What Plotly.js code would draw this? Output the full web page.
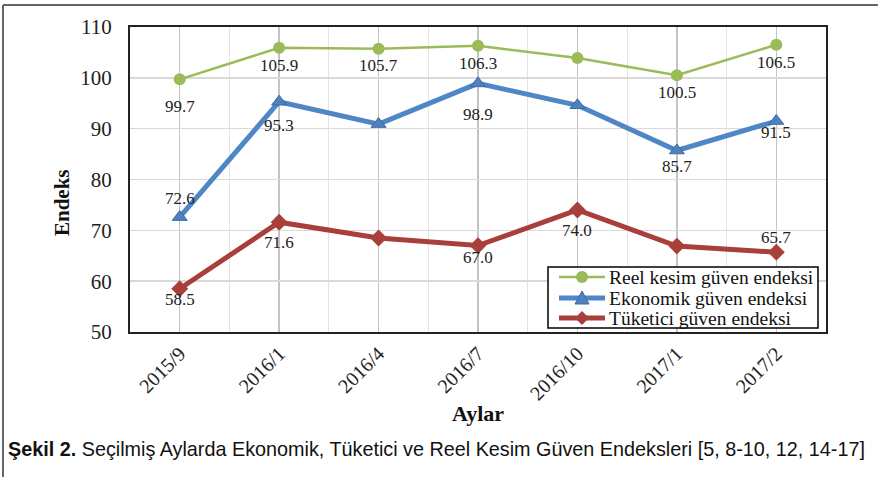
<!DOCTYPE html>
<html>
<head>
<meta charset="utf-8">
<script src="https://cdn.plot.ly/plotly-3.0.1.min.js"></script>
<style>html,body{margin:0;padding:0;background:#fff;}#chart{width:878px;height:477px;}</style>
</head>
<body>
<div id="chart"></div>
<script>
const categories = ["2015/9", "2016/1", "2016/4", "2016/7", "2016/10", "2017/1", "2017/2"];
const reelValues = [99.7, 105.9, 105.7, 106.3, 103.9, 100.5, 106.5];
const ekonomikValues = [72.6, 95.3, 90.9, 98.9, 94.6, 85.7, 91.5];
const tuketiciValues = [58.5, 71.6, 68.5, 67.0, 74.0, 66.9, 65.7];
const reelLabels = ["99.7", "105.9", "105.7", "106.3", "", "100.5", "106.5"];
const ekonomikLabels = ["72.6", "95.3", "", "98.9", "", "85.7", "91.5"];
const tuketiciLabels = ["58.5", "71.6", "", "67.0", "74.0", "", "65.7"];
const seriesNames = ["Reel kesim güven endeksi", "Ekonomik güven endeksi", "Tüketici güven endeksi"];
const yTicks = [50, 60, 70, 80, 90, 100, 110];

// styles
const colors = ["#9bbb59", "#4f86c6", "#a83f3b"];
const lineWidths = [2.5, 5, 5];
const reelShift = [-27, -18, -17, -18, 0, -17, -18];
const ekoShift = [19, -24, 0, -31, 0, -16, -11];
const tukShift = [-11, -20, 0, -12, -20, 0, 15];

const idx = categories.map((c, i) => i);
const serif = "Liberation Serif, Times New Roman, serif";

// plot area in pixels
const L = 130, R = 826, T = 27, B = 332;
const px2x = p => (p - L) / (R - L);
const px2y = p => (B - p) / (B - T);

const traces = [
  {x: idx, y: reelValues, name: seriesNames[0], mode: "lines+markers",
   line: {color: colors[0], width: lineWidths[0]}, marker: {symbol: "circle", size: 12, color: colors[0]}},
  {x: idx, y: ekonomikValues, name: seriesNames[1], mode: "lines+markers",
   line: {color: colors[1], width: lineWidths[1]}, marker: {symbol: "triangle-up", size: 13, color: "#4f81bd", line: {color: "#3a6aa6", width: 1}}},
  {x: idx, y: tuketiciValues, name: seriesNames[2], mode: "lines+markers",
   line: {color: colors[2], width: lineWidths[2]}, marker: {symbol: "diamond", size: 13, color: colors[2]}}
];

const annotations = [];
function addLabels(values, labels, shifts) {
  values.forEach((v, i) => {
    if (labels[i]) annotations.push({x: idx[i], y: v, text: labels[i], showarrow: false,
      yshift: shifts[i], font: {family: serif, size: 17, color: "#222"}});
  });
}
addLabels(reelValues, reelLabels, reelShift);
addLabels(ekonomikValues, ekonomikLabels, ekoShift);
addLabels(tuketiciValues, tuketiciLabels, tukShift);

// y-axis title
annotations.push({xref: "paper", yref: "paper", x: px2x(62), y: px2y(203), textangle: -90,
  xanchor: "center", yanchor: "middle",
  showarrow: false, text: "<b>Endeks</b>", font: {family: serif, size: 21, color: "#111"}});

// caption
annotations.push({xref: "paper", yref: "paper", x: px2x(6), y: px2y(449), xanchor: "left", yanchor: "middle",
  showarrow: false, align: "left",
  text: "<b>Şekil 2.</b> Seçilmiş Aylarda Ekonomik, Tüketici ve Reel Kesim Güven Endeksleri [5, 8-10, 12, 14-17]",
  font: {family: "Liberation Sans, Arial, sans-serif", size: 19.8, color: "#111"}});

// custom legend
const shapes = [
  {type: "line", xref: "paper", yref: "paper", x0: px2x(3), x1: px2x(900), y0: px2y(5), y1: px2y(5), line: {color: "#666", width: 2}},
  {type: "line", xref: "paper", yref: "paper", x0: px2x(3), x1: px2x(3), y0: px2y(5), y1: px2y(500), line: {color: "#666", width: 2}},
  {type: "rect", xref: "paper", yref: "paper", x0: px2x(548), x1: px2x(818), y0: px2y(328), y1: px2y(267),
   fillcolor: "#fff", line: {color: "#000", width: 1.5}, layer: "above"}
];
const rowsY = [277, 298, 318];
const mx = 582;
seriesNames.forEach((name, k) => {
  const yy = rowsY[k];
  shapes.push({type: "line", xref: "paper", yref: "paper", x0: px2x(559), x1: px2x(605), y0: px2y(yy), y1: px2y(yy),
    line: {color: colors[k], width: lineWidths[k]}, layer: "above"});
  let path;
  if (k === 0) {
    shapes.push({type: "circle", xref: "paper", yref: "paper", x0: px2x(mx - 6), x1: px2x(mx + 6), y0: px2y(yy + 6), y1: px2y(yy - 6),
      fillcolor: colors[0], line: {color: colors[0], width: 0}, layer: "above"});
  } else if (k === 1) {
    path = `M ${px2x(mx - 7)} ${px2y(yy + 6)} L ${px2x(mx + 7)} ${px2y(yy + 6)} L ${px2x(mx)} ${px2y(yy - 7)} Z`;
    shapes.push({type: "path", xref: "paper", yref: "paper", path: path, fillcolor: "#4f81bd", line: {color: "#3a6aa6", width: 1}, layer: "above"});
  } else {
    path = `M ${px2x(mx - 7)} ${px2y(yy)} L ${px2x(mx)} ${px2y(yy - 7)} L ${px2x(mx + 7)} ${px2y(yy)} L ${px2x(mx)} ${px2y(yy + 7)} Z`;
    shapes.push({type: "path", xref: "paper", yref: "paper", path: path, fillcolor: colors[2], line: {color: colors[2], width: 0}, layer: "above"});
  }
  annotations.push({xref: "paper", yref: "paper", x: px2x(607), y: px2y(yy), xanchor: "left", yanchor: "middle",
    showarrow: false, text: name, font: {family: serif, size: 19.5, color: "#111"}});
});

const layout = {
  width: 878, height: 477,
  margin: {l: L, r: 878 - R, t: T, b: 477 - B},
  paper_bgcolor: "#fff", plot_bgcolor: "#fff",
  showlegend: false,
  xaxis: {type: "linear", range: [-0.5, 6.5], tickvals: idx, ticktext: categories, tickangle: -45,
    showgrid: true, gridcolor: "#c4c4c4", gridwidth: 1.5,
    minor: {tick0: 0.5, dtick: 1, showgrid: true, gridcolor: "#e4e4e4", gridwidth: 1},
    showline: true, linecolor: "#222", linewidth: 2, mirror: true, zeroline: false,
    ticks: "", tickfont: {family: serif, size: 20, color: "#222"},
    title: {text: "<b>Aylar</b>", font: {family: serif, size: 22, color: "#111"}, standoff: 2}},
  yaxis: {range: [50, 110], tickvals: yTicks, showgrid: true, gridcolor: "#d9d9d9", gridwidth: 1.5,
    showline: true, linecolor: "#222", linewidth: 2, mirror: true, zeroline: false,
    ticks: "outside", ticklen: 12, tickcolor: "rgba(0,0,0,0)",
    tickfont: {family: serif, size: 21, color: "#222"}},
  annotations: annotations,
  shapes: shapes
};

Plotly.newPlot("chart", traces, layout, {displayModeBar: false, staticPlot: true});
</script>
</body>
</html>
